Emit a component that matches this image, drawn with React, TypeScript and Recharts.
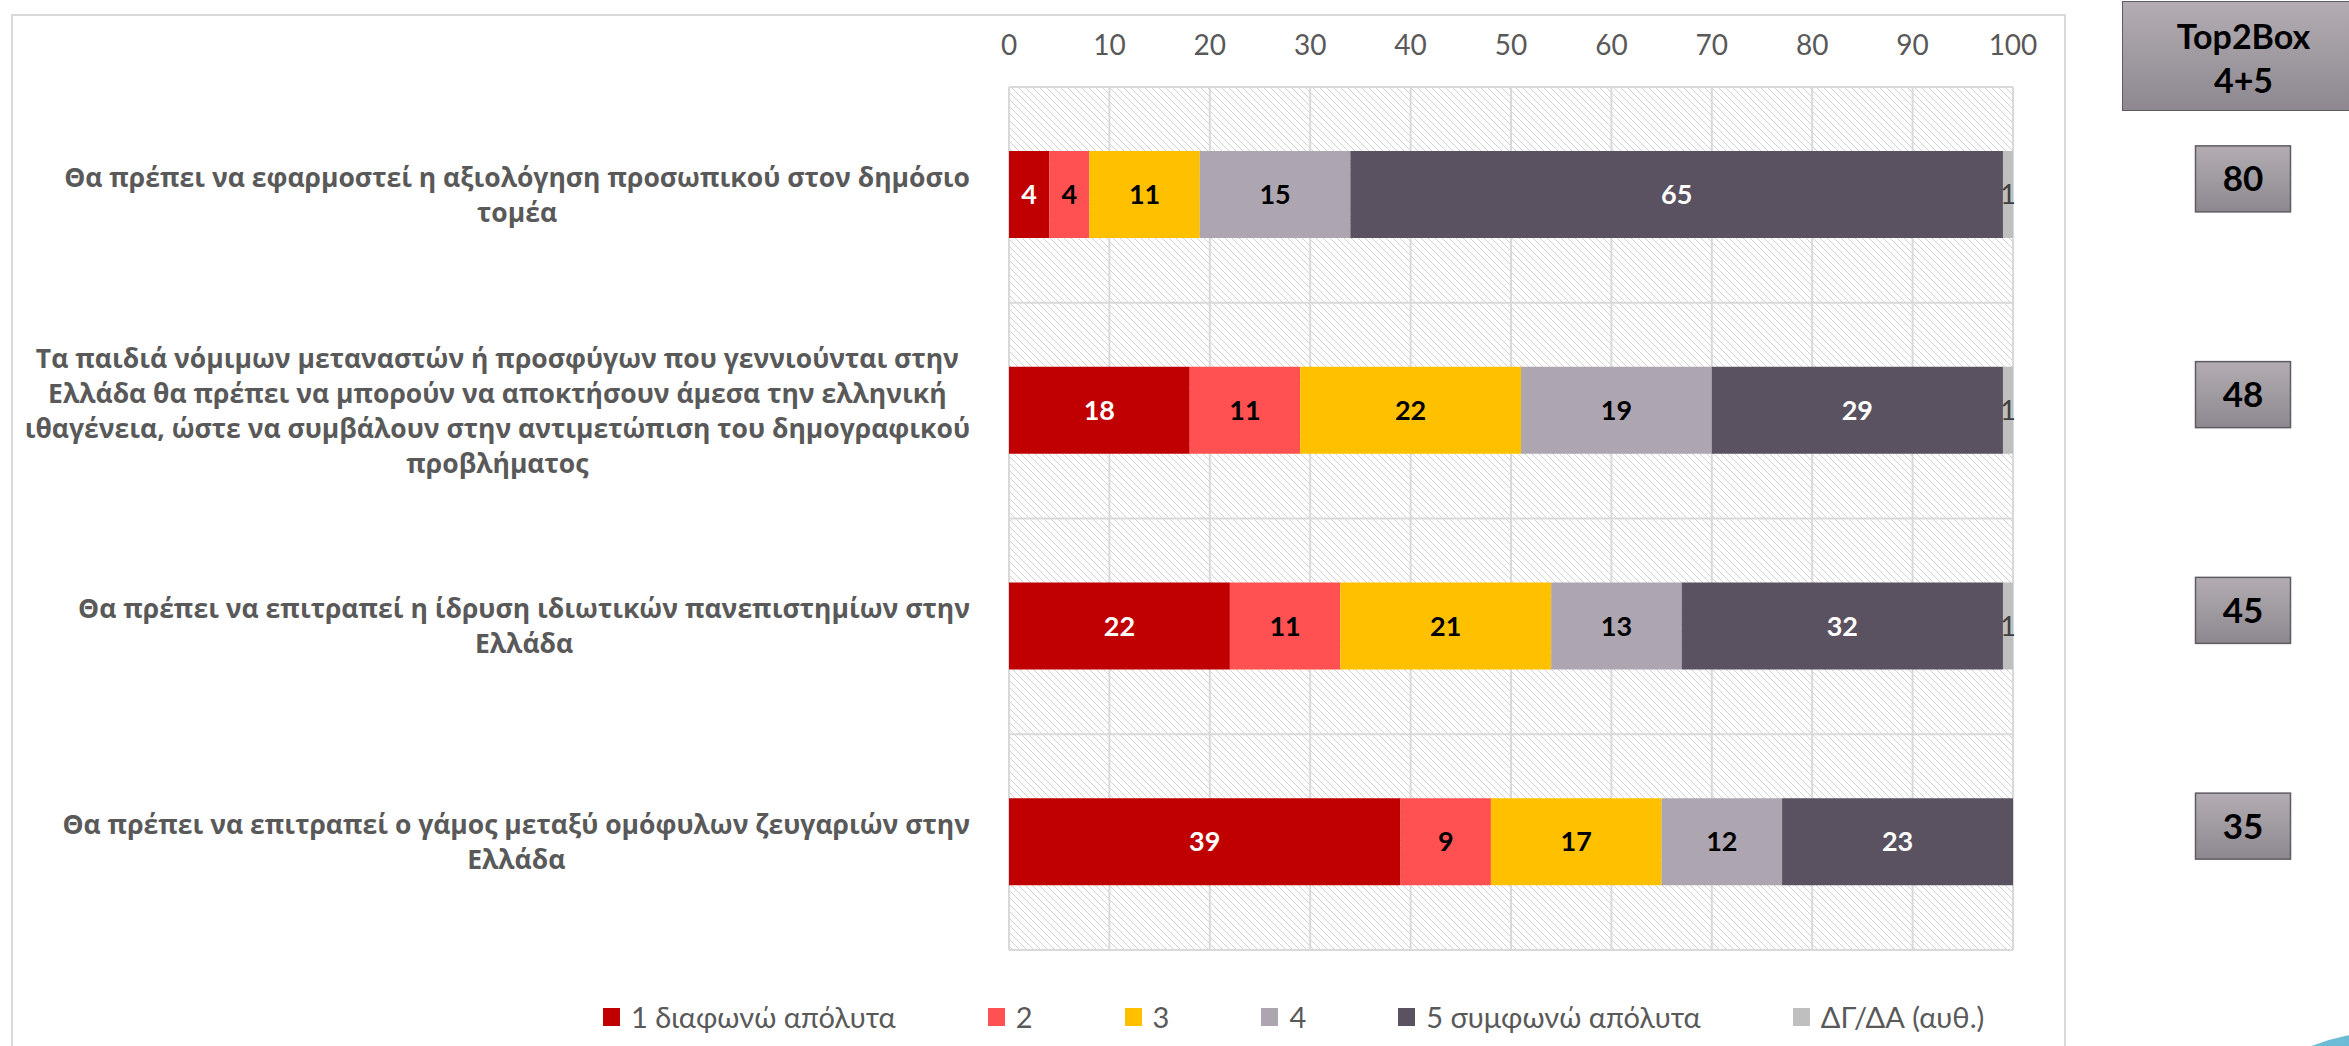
import React from 'react';
import { BarChart, Bar, XAxis, YAxis, CartesianGrid, LabelList, Legend } from 'recharts';

// ---------- data ----------
const categories: string[] = [
  'Θα πρέπει να εφαρμοστεί η αξιολόγηση προσωπικού στον δημόσιο\nτομέα',
  'Τα παιδιά νόμιμων μεταναστών ή προσφύγων που γεννιούνται στην\nΕλλάδα θα πρέπει να μπορούν να αποκτήσουν άμεσα την ελληνική\nιθαγένεια, ώστε να συμβάλουν στην αντιμετώπιση του δημογραφικού\nπροβλήματος',
  'Θα πρέπει να επιτραπεί η ίδρυση ιδιωτικών πανεπιστημίων στην\nΕλλάδα',
  'Θα πρέπει να επιτραπεί ο γάμος μεταξύ ομόφυλων ζευγαριών στην\nΕλλάδα',
];
const disagreeFully: number[] = [4, 18, 22, 39];
const level2: number[] = [4, 11, 11, 9];
const level3: number[] = [11, 22, 21, 17];
const level4: number[] = [15, 19, 13, 12];
const agreeFully: number[] = [65, 29, 32, 23];
const dontKnow: number[] = [1, 1, 1, 0];
const top2box: number[] = [80, 48, 45, 35];
const xTicks: number[] = [0, 10, 20, 30, 40, 50, 60, 70, 80, 90, 100];

const seriesNames: string[] = ['1 διαφωνώ απόλυτα', '2', '3', '4', '5 συμφωνώ απόλυτα', 'ΔΓ/ΔΑ (αυθ.)'];
const seriesKeys: string[] = ['s1', 's2', 's3', 's4', 's5', 'dk'];
const seriesColors: string[] = ['#c00000', '#ff5151', '#ffc000', '#ada5b0', '#5a5260', '#bfbfbf'];
const labelColors: string[] = ['#ffffff', '#000000', '#000000', '#000000', '#ffffff', '#404040'];
const headerLines: string[] = ['Top2Box', '4+5'];

const data = categories.map((name, i) => ({
  name,
  s1: disagreeFully[i],
  s2: level2[i],
  s3: level3[i],
  s4: level4[i],
  s5: agreeFully[i],
  dk: dontKnow[i],
}));

// ---------- helpers ----------
let ctx: CanvasRenderingContext2D | null = null;
function textWidth(s: string, font: string): number {
  if (typeof document === 'undefined') return s.length * 14;
  if (!ctx) ctx = document.createElement('canvas').getContext('2d');
  if (!ctx) return s.length * 14;
  ctx.font = font;
  return ctx.measureText(s).width;
}

const LABEL_FS = 26.5;
const LABEL_LH = 35;
const LABEL_FONT = 'Open Sans';

const CategoryTick = (props: any) => {
  const { x, y, payload } = props;
  const lines = String(payload.value).split('\n');
  const font = `700 ${LABEL_FS}px "${LABEL_FONT}"`;
  const maxW = Math.max(...lines.map((l) => textWidth(l, font)));
  const cx = x - maxW / 2;
  const startY = y - ((lines.length - 1) * LABEL_LH) / 2;
  return (
    <text
      textAnchor="middle"
      fontFamily={LABEL_FONT}
      fontWeight={700}
      fontSize={LABEL_FS}
      fill="#595959"
    >
      {lines.map((l, i) => (
        <tspan key={i} x={cx} y={startY + i * LABEL_LH} dy="0.36em">
          {l}
        </tspan>
      ))}
    </text>
  );
};

const Top2Tick = (props: any) => {
  const { x, y, payload } = props;
  const idx = categories.indexOf(payload.value);
  const v = idx >= 0 ? top2box[idx] : '';
  const w = 95;
  const h = 66;
  const cy = y - 16;
  return (
    <g>
      <rect x={x - w / 2} y={cy - h / 2} width={w} height={h} fill="url(#boxGrad)" stroke="#5f5a63" strokeWidth={1.5} />
      <text x={x} y={cy} dy="0.36em" textAnchor="middle" fontFamily="Lato" fontWeight={700} fontSize={35} fill="#000">
        {v}
      </text>
    </g>
  );
};

const renderLegend = (props: any) => {
  const payload: any[] = (props && props.payload) || [];
  const items = [...payload].sort(
    (a, b) => seriesNames.indexOf(String(a.value)) - seriesNames.indexOf(String(b.value)),
  );
  return (
    <div style={{ display: 'flex', alignItems: 'center', fontFamily: 'Lato', fontSize: 29, color: '#595959', whiteSpace: 'nowrap' }}>
      {items.map((p, i) => (
        <div
          key={i}
          style={{
            display: 'flex',
            alignItems: 'center',
            boxSizing: 'border-box',
            minWidth: 135,
            paddingRight: 92,
          }}
        >
          <span style={{ display: 'inline-block', width: 17, height: 18, background: p.color, marginRight: 11 }} />
          <span>{p.value}</span>
        </div>
      ))}
    </div>
  );
};

const gridRows = (args: any) => {
  const off = args && args.offset;
  const top = off ? off.top : 87;
  const height = off ? off.height : 863;
  const n = categories.length;
  const pts: number[] = [];
  for (let i = 0; i <= n; i++) pts.push(top + (i * height) / n);
  return pts;
};

export default function App() {
  return (
    <div style={{ position: 'absolute', left: 0, top: 0, width: 2349, height: 1046, overflow: 'hidden', background: '#fff' }}>
      {/* slide frame */}
      <div
        style={{
          position: 'absolute',
          left: 11,
          top: 14,
          width: 2055,
          height: 1100,
          border: '2px solid #d9d9d9',
          boxSizing: 'border-box',
        }}
      />
      <div style={{ position: 'absolute', left: 0, top: 0 }}>
        <BarChart
          width={2349}
          height={1046}
          data={data}
          layout="vertical"
          margin={{ top: 0, right: 0, bottom: 96, left: 0 }}
        >
          <defs>
            <pattern id="hatch" patternUnits="userSpaceOnUse" width="7" height="7">
              <path d="M0,0 L7,7 M-1,6 L1,8 M6,-1 L8,1" stroke="#d2d2d2" strokeWidth="1" />
            </pattern>
            <linearGradient id="boxGrad" x1="0" y1="0" x2="0" y2="1">
              <stop offset="0%" stopColor="#b3adb3" />
              <stop offset="100%" stopColor="#8d888f" />
            </linearGradient>
          </defs>
          <CartesianGrid
            yAxisId="left"
            stroke="#d9d9d9"
            strokeWidth={2}
            fill="url(#hatch)"
            fillOpacity={1}
            horizontalCoordinatesGenerator={gridRows}
          />
          <XAxis
            type="number"
            orientation="top"
            domain={[0, 100]}
            ticks={xTicks}
            height={87}
            axisLine={false}
            tickLine={false}
            tickSize={0}
            tickMargin={32}
            interval={0}
            tick={{ fill: '#595959', fontSize: 28, fontFamily: 'Lato' }}
          />
          <YAxis
            yAxisId="left"
            type="category"
            dataKey="name"
            width={1009}
            axisLine={false}
            tickLine={false}
            tickSize={0}
            tickMargin={39}
            interval={0}
            tick={<CategoryTick />}
          />
          <YAxis
            yAxisId="right"
            orientation="right"
            type="category"
            dataKey="name"
            width={336}
            axisLine={false}
            tickLine={false}
            tickSize={0}
            tickMargin={230}
            interval={0}
            tick={<Top2Tick />}
          />
          <Legend
            verticalAlign="middle"
            align="center"
            layout="horizontal"
            content={renderLegend}
            wrapperStyle={{ left: 603, top: 999, width: 1700, height: 38 }}
          />
          {seriesKeys.map((k, i) => (
            <Bar
              key={k}
              dataKey={k}
              name={seriesNames[i]}
              stackId="a"
              yAxisId="left"
              fill={seriesColors[i]}
              barSize={87}
              isAnimationActive={false}
            >
              <LabelList
                dataKey={k}
                position="center"
                fill={labelColors[i]}
                fontSize={27}
                fontWeight={k === 'dk' ? 400 : 700}
                fontFamily="Lato"
                formatter={(v: any) => (v ? v : '')}
              />
            </Bar>
          ))}
        </BarChart>
      </div>
      {/* Top2Box header */}
      <div
        style={{
          position: 'absolute',
          left: 2122,
          top: 1,
          width: 240,
          height: 110,
          boxSizing: 'border-box',
          border: '1.5px solid #5f5a63',
          background: 'linear-gradient(#b3adb3, #8d888f)',
          fontFamily: 'Lato',
          fontWeight: 700,
          fontSize: 34,
          color: '#000',
          lineHeight: '44px',
          paddingTop: 12,
        }}
      >
        {headerLines.map((l, i) => (
          <div key={i} style={{ width: 241, textAlign: 'center' }}>
            {l}
          </div>
        ))}
      </div>
      {/* decorative corner circle */}
      <div
        style={{
          position: 'absolute',
          left: 2185,
          top: 1032,
          width: 400,
          height: 400,
          borderRadius: '50%',
          background: 'linear-gradient(#6cbcd6, #4aa6c6)',
        }}
      />
    </div>
  );
}
